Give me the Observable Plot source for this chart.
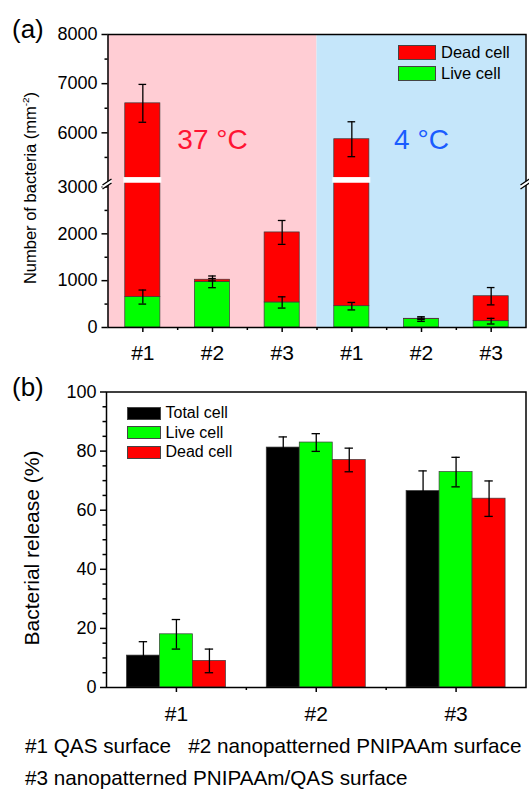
<!DOCTYPE html>
<html><head><meta charset="utf-8">
<script src="https://cdn.jsdelivr.net/npm/d3@7"></script>
<script src="https://cdn.jsdelivr.net/npm/@observablehq/plot@0.6"></script>
<style>
body{margin:0;background:#fff;font-family:"Liberation Sans",Arial,sans-serif;}
#wrap{position:relative;width:529px;height:791px;overflow:hidden;}
#wrap svg{display:block;}
.abs{position:absolute;white-space:pre;color:#000;line-height:1;}
.leg{position:absolute;display:flex;align-items:center;white-space:pre;line-height:1;}
.sw{box-sizing:border-box;border:1px solid #444;margin-right:5px;}
.ylab{position:absolute;white-space:nowrap;line-height:1;transform:translate(-50%,-50%) rotate(-90deg);}
</style></head><body><div id="wrap"></div>
<script>
// ---------- Panel (a) data ----------
const temps = ["37 °C", "4 °C"];
const surfaces = ["#1", "#2", "#3"];
const liveA = [650, 975, 535, 455, 180, 135];
const liveErrA = [150, 125, 120, 80, 50, 60];
const totalA = [6600, 1020, 2030, 5870, 186, 668];
const totalErrA = [385, 25, 255, 355, 15, 185];
const yTicksA = [0, 1000, 2000, 3000, 6000, 7000, 8000];
const yMinorA = [500, 1500, 2500, 5500, 6500, 7500];
const yBreakA = [3000, 5000];
const legendA = ["Dead cell", "Live cell"];

// ---------- Panel (b) data ----------
const seriesB = ["Total cell", "Live cell", "Dead cell"];
const releaseTotal = [10.8, 81.2, 66.5];
const releaseTotalErr = [4.7, 3.6, 6.8];
const releaseLive = [18, 82.9, 72.9];
const releaseLiveErr = [5, 3, 5];
const releaseDead = [9, 77, 63.9];
const releaseDeadErr = [4, 4, 6];
const yTicksB = [0, 20, 40, 60, 80, 100];
const captionLines = ["#1 QAS surface   #2 nanopatterned PNIPAAm surface", "#3 nanopatterned PNIPAAm/QAS surface"];

// ---------- styles ----------
const RED = "#FF0000", GREEN = "#00FF00", BLACK = "#000000";
const bgColors = ["#FFCDD4", "#C5E6FA"];
const tempTextColors = ["#FF1433", "#1A5CFF"];
const FONT = "Liberation Sans, Arial, sans-serif";
const wrap = document.getElementById("wrap");

// ---------- Panel (a) ----------
const rowsA = totalA.map((t, i) => ({
  pos: i + 1, temp: temps[Math.floor(i / 3)], surface: surfaces[i % 3],
  live: liveA[i], liveErr: liveErrA[i], total: t, totalErr: totalErrA[i]
}));
const bgA = temps.map((t, i) => ({temp: t, lo: i * 3 + 0.5, hi: i * 3 + 3.5, mid: i * 3 + 2, fill: bgColors[i], tcol: tempTextColors[i]}));
const minorXA = rowsA.slice(0, -1).map(d => d.pos + 0.5);
const hw = 0.252, capA = 0.055;
const gapA = [4500, 5090];

function errorMarks(rows, xf, lo, hi, cap) {
  return [
    Plot.ruleX(rows, {x: xf, y1: lo, y2: hi, stroke: "black", strokeWidth: 1.3}),
    Plot.ruleY(rows, {y: hi, x1: d => xf(d) - cap, x2: d => xf(d) + cap, stroke: "black", strokeWidth: 1.3}),
    Plot.ruleY(rows, {y: lo, x1: d => xf(d) - cap, x2: d => xf(d) + cap, stroke: "black", strokeWidth: 1.3})
  ];
}

const chartA = Plot.plot({
  width: 529, height: 370,
  marginLeft: 107.5, marginRight: 3.5, marginTop: 34, marginBottom: 43,
  style: {fontFamily: FONT, fontSize: "18px", color: "black", background: "transparent", overflow: "visible"},
  x: {domain: [0.5, rowsA.length + 0.5]},
  y: {type: "linear", domain: [0, yBreakA[0], yBreakA[1], 8000], range: [327, 186.5, 181.5, 34]},
  color: {type: "identity"},
  marks: [
    Plot.rect(bgA, {x1: "lo", x2: "hi", y1: 0, y2: 8000, fill: "fill"}),
    Plot.rect(rowsA, {x1: d => d.pos - hw, x2: d => d.pos + hw, y1: 0, y2: "live", fill: GREEN, stroke: "#3a3a3a", strokeWidth: 0.7}),
    Plot.rect(rowsA, {x1: d => d.pos - hw, x2: d => d.pos + hw, y1: "live", y2: "total", fill: RED, stroke: "#3a3a3a", strokeWidth: 0.7}),
    Plot.rect(rowsA.filter(d => d.total > yBreakA[1]), {x1: d => d.pos - hw - 0.02, x2: d => d.pos + hw + 0.02, y1: gapA[0], y2: gapA[1], fill: "white"}),
    ...errorMarks(rowsA, d => d.pos, d => d.total - d.totalErr, d => d.total + d.totalErr, capA),
    ...errorMarks(rowsA, d => d.pos, d => d.live - d.liveErr, d => d.live + d.liveErr, capA),
    Plot.text(bgA, {x: "mid", y: 5850, text: "temp", fill: "tcol", fontSize: 28}),
    Plot.axisY({ticks: yTicksA, tickSize: 6, tickPadding: 4.5, tickFormat: d => String(d), fontSize: 18, strokeWidth: 1.5, label: null}),
    Plot.axisY({ticks: yMinorA, tickSize: 3, tickFormat: () => "", strokeWidth: 1.5, label: null}),
    Plot.axisX({ticks: rowsA.map(d => d.pos), tickSize: 5, tickPadding: 13, tickFormat: d => surfaces[(d - 1) % 3], fontSize: 21, strokeWidth: 1.5, label: null}),
    Plot.axisX({ticks: minorXA, tickSize: 3, tickFormat: () => "", strokeWidth: 1.5, label: null}),
    Plot.frame({stroke: "black", strokeWidth: 1.5})
  ]
});
wrap.appendChild(chartA);

// axis-break marks on both vertical axes
(function () {
  const ys = chartA.scale("y"), xs = chartA.scale("x");
  const yb = (ys.apply(yBreakA[0]) + ys.apply(yBreakA[1])) / 2;
  const svg = d3.select(chartA);
  const g = svg.append("g");
  for (const xe of [xs.apply(xs.domain[0]), xs.apply(xs.domain[1])]) {
    g.append("path").attr("d", `M${xe - 5},${yb + 1}L${xe + 4},${yb - 5}L${xe + 4},${yb - 1}L${xe - 5},${yb + 5}Z`).attr("fill", "white");
    for (const o of [-2, 2]) {
      g.append("line").attr("x1", xe - 5).attr("y1", yb + o + 3).attr("x2", xe + 4).attr("y2", yb + o - 3)
        .attr("stroke", "black").attr("stroke-width", 1.3);
    }
  }
})();

// ---------- Panel (b) ----------
const valuesB = [releaseTotal, releaseLive, releaseDead];
const errsB = [releaseTotalErr, releaseLiveErr, releaseDeadErr];
const colorsB = [BLACK, GREEN, RED];
const wb = 0.236, capB = 0.03;
const rowsB = [];
surfaces.forEach((s, gi) => seriesB.forEach((name, k) => rowsB.push({
  g: gi + 1, k, name, value: valuesB[k][gi], err: errsB[k][gi], fill: colorsB[k]
})));
const cx = d => d.g + (d.k - 1) * wb;
const yMinorB = d3.range(5, 100, 5).filter(v => !yTicksB.includes(v));

const chartB = Plot.plot({
  width: 529, height: 365,
  marginLeft: 106, marginRight: 3.5, marginTop: 21.5, marginBottom: 48,
  style: {fontFamily: FONT, fontSize: "18px", color: "black", background: "transparent", overflow: "visible"},
  x: {domain: [0.5, surfaces.length + 0.5]},
  y: {domain: [0, 100]},
  color: {type: "identity"},
  marks: [
    Plot.rect(rowsB, {x1: d => cx(d) - wb / 2, x2: d => cx(d) + wb / 2, y1: 0, y2: "value", fill: "fill", stroke: "#3a3a3a", strokeWidth: 0.7}),
    ...errorMarks(rowsB, cx, d => d.value - d.err, d => d.value + d.err, capB),
    Plot.axisY({ticks: yTicksB, tickSize: 6, tickPadding: 4, tickFormat: d => String(d), fontSize: 18, strokeWidth: 1.5, label: null}),
    Plot.axisY({ticks: yMinorB, tickSize: 3.5, tickFormat: () => "", strokeWidth: 1.5, label: null}),
    Plot.axisX({ticks: surfaces.map((s, i) => i + 1), tickSize: 5, tickPadding: 14, tickFormat: d => surfaces[d - 1], fontSize: 21, strokeWidth: 1.5, label: null}),
    Plot.axisX({ticks: [1.5, 2.5], tickSize: 3, tickFormat: () => "", strokeWidth: 1.5, label: null}),
    Plot.frame({stroke: "black", strokeWidth: 1.5})
  ]
});
wrap.appendChild(chartB);

// ---------- overlays: panel letters, axis titles, legends, caption ----------
function addDiv(cls, html, css) {
  const d = document.createElement("div");
  d.className = cls; d.innerHTML = html;
  Object.assign(d.style, css);
  wrap.appendChild(d);
  return d;
}
addDiv("abs", "(a)", {left: "12px", top: "16px", fontSize: "26px"});
addDiv("abs", "(b)", {left: "12px", top: "374px", fontSize: "26px"});
addDiv("ylab", 'Number of bacteria (mm<sup style="font-size:0.6em;vertical-align:0.7em">-2</sup>)', {left: "29.5px", top: "188px", fontSize: "16.5px"});
addDiv("ylab", "Bacterial release (%)", {left: "31px", top: "548px", fontSize: "21px"});

const legColorsA = [RED, GREEN];
legendA.forEach((name, i) => {
  addDiv("leg", `<div class="sw" style="width:38px;height:15px;background:${legColorsA[i]}"></div><span>${name}</span>`,
    {left: "398px", top: (44 + i * 21) + "px", fontSize: "16.5px"});
});
seriesB.forEach((name, i) => {
  addDiv("leg", `<div class="sw" style="width:34px;height:13px;background:${colorsB[i]}"></div><span>${name}</span>`,
    {left: "126.5px", top: (405 + i * 19.5) + "px", fontSize: "16px"});
});
captionLines.forEach((line, i) => {
  addDiv("abs", line, {left: "25px", top: (735.5 + i * 32) + "px", fontSize: "20.7px"});
});
</script>
</body></html>
